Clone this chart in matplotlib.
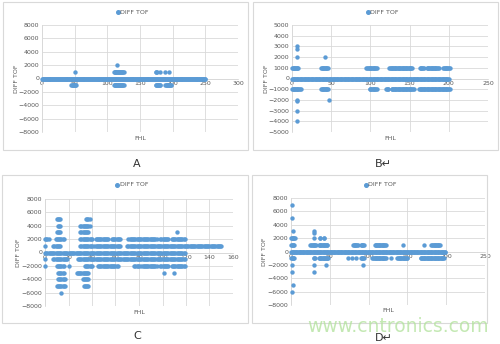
import matplotlib.pyplot as plt
from matplotlib.patches import Rectangle

# each run: (DIFF TOF value, first FHL, last FHL) -> one point per integer FHL
a_runs = [(0, 0, 250),
          (1000, 50, 50), (-1000, 45, 52),
          (1000, 110, 125), (2000, 115, 115), (-1000, 110, 125),
          (1000, 174, 176), (1000, 180, 180), (-1000, 174, 181),
          (1000, 189, 189), (1000, 195, 195), (-1000, 189, 198)]

b_runs = [(0, 0, 200),
          (1000, 0, 8), (-1000, 0, 11), (2000, 7, 7), (2800, 7, 7), (3000, 7, 7),
          (-2000, 7, 7), (-2100, 7, 7), (-3000, 7, 7), (-4000, 7, 7),
          (1000, 37, 46), (2000, 42, 42), (-1000, 37, 46), (-2000, 47, 47),
          (1000, 95, 108), (-1000, 99, 108),
          (1000, 124, 153), (-1000, 120, 123), (-1000, 127, 155),
          (1000, 163, 168), (1000, 172, 187), (1000, 193, 201), (-1000, 162, 201)]

c_runs = [(0, 0, 119),
          (1000, 0, 0), (1000, 7, 13), (1000, 30, 40), (1000, 42, 64), (1000, 70, 150),
          (2000, 0, 3), (2000, 9, 16), (2000, 30, 40), (2000, 43, 54), (2000, 57, 64),
          (2000, 71, 78), (2000, 79, 95), (2000, 98, 105), (2000, 108, 119),
          (3000, 10, 13), (3000, 30, 37), (3000, 112, 112),
          (4000, 11, 13), (4000, 30, 38),
          (5000, 10, 13), (5000, 35, 38),
          (-1000, 0, 0), (-1000, 7, 19), (-1000, 28, 119),
          (-2000, 0, 0), (-2000, 10, 16), (-2000, 20, 20), (-2000, 34, 40),
          (-2000, 45, 62), (-2000, 76, 80), (-2000, 82, 95), (-2000, 98, 105), (-2000, 108, 119),
          (-3000, 11, 16), (-3000, 27, 37), (-3000, 101, 101), (-3000, 110, 110),
          (-4000, 11, 17), (-4000, 32, 37),
          (-5000, 10, 17), (-5000, 33, 37),
          (-6000, 14, 14)]

d_runs = [(0, 0, 199),
          (7000, 1, 1), (5000, 1, 1), (3000, 3, 3), (2000, 0, 5), (1000, 0, 4),
          (-1000, 0, 4), (-2000, 1, 1), (-3000, 1, 1), (-5000, 3, 3), (-6000, 1, 1),
          (1000, 25, 32), (2000, 30, 30), (3000, 30, 30), (2800, 30, 30),
          (-1000, 29, 31), (-2000, 30, 30), (-3000, 30, 30),
          (2000, 37, 38), (2000, 42, 43), (1000, 36, 47), (-1000, 36, 48), (-2000, 45, 45),
          (-1000, 73, 73), (-1000, 78, 78), (-1000, 84, 84), (-1000, 90, 94),
          (1000, 80, 86), (1000, 90, 94), (-2000, 93, 93),
          (1000, 108, 122), (-1000, 105, 122), (-1000, 129, 129),
          (1000, 144, 144), (-1000, 137, 150), (1000, 171, 171),
          (1000, 181, 192), (-1000, 167, 197)]

panels = [
    # runs, xmax, xstep, ymax, ystep, border box (px), plot box (px), caption, caption pos
    (a_runs, 300, 50, 8000, 2000, (3, 2, 248, 150), (42, 25, 238, 132), "A", (133, 164)),
    (b_runs, 250, 50, 5000, 1000, (253, 2, 498, 150), (292, 25, 488, 132), "B\u21b5", (375, 164)),
    (c_runs, 160, 20, 8000, 2000, (2, 175, 248, 323), (45, 199, 233, 306), "C", (133, 336)),
    (d_runs, 250, 50, 8000, 2000, (252, 175, 487, 323), (291, 198, 485, 305), "D\u21b5", (375, 338)),
]

W, H = 500, 344
fig = plt.figure(figsize=(W / 100, H / 100), dpi=100)
fig.patch.set_facecolor("white")

blue = "#5b9bd5"
grid = "#d9d9d9"
txt = "#595959"

for runs, xmax, xstep, ymax, ystep, box, plot, cap, cpos in panels:
    bx0, by0, bx1, by1 = box
    fig.patches.append(Rectangle((bx0 / W, 1 - by1 / H), (bx1 - bx0) / W, (by1 - by0) / H,
                                 transform=fig.transFigure, fill=False, ec=grid, lw=0.8))
    px0, py0, px1, py1 = plot
    ax = fig.add_axes([px0 / W, 1 - py1 / H, (px1 - px0) / W, (py1 - py0) / H])
    xs, ys = [], []
    for y, x0, x1 in runs:
        for x in range(x0, x1 + 1):
            xs.append(x)
            ys.append(y)
    ax.scatter(xs, ys, s=10, color=blue, linewidths=0, zorder=3, clip_on=False)
    ax.set_xlim(0, xmax)
    ax.set_ylim(-ymax, ymax)
    ax.set_xticks(range(0, xmax + 1, xstep))
    ax.set_yticks(range(-ymax, ymax + 1, ystep))
    ax.grid(True, color=grid, lw=0.6)
    ax.set_axisbelow(True)
    for s in ["top", "right"]:
        ax.spines[s].set_visible(False)
    ax.spines["left"].set_color(grid)
    ax.spines["left"].set_linewidth(0.6)
    ax.spines["bottom"].set_position(("data", 0))
    ax.spines["bottom"].set_color(grid)
    ax.spines["bottom"].set_linewidth(0.6)
    ax.tick_params(length=0, labelsize=4.5, colors=txt, pad=2)
    ax.set_facecolor("none")
    # axis titles
    fig.text((px0 - 26) / W, 1 - ((py0 + py1) / 2) / H, "DIFF TOF", rotation=90,
             ha="center", va="center", fontsize=4.5, color=txt)
    fig.text((px0 + px1) / 2 / W, 1 - (py1 + 6) / H, "FHL",
             ha="center", va="center", fontsize=4.5, color=txt)
    # legend
    lx = ((px0 + px1) / 2 - 22) / W
    ly = 1 - (by0 + 10) / H
    fig.lines.append(plt.Line2D([lx], [ly], transform=fig.transFigure, marker="o",
                                ms=2.6, color=blue, lw=0))
    fig.text(lx + 0.005, ly, "DIFF TOF", ha="left", va="center", fontsize=4.5, color=txt)
    fig.text(cpos[0] / W, 1 - cpos[1] / H, cap, ha="left", va="center",
             fontsize=8, color="#333333")

fig.text(398 / W, 1 - 326 / H, "www.cntronics.com", ha="center", va="center",
         fontsize=13.5, color="#b5e3a0", alpha=0.8)

fig.savefig("out.png", dpi=100, facecolor="white")
